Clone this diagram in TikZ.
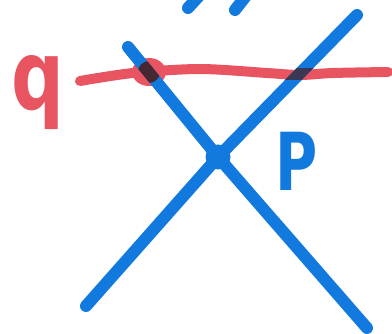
\documentclass[tikz,border=0pt]{standalone}
\usepackage{fontspec}
\newfontfamily\markerfont{DejaVu Sans}
\definecolor{mblue}{RGB}{18,122,222}
\definecolor{mred}{RGB}{232,84,96}
\definecolor{mdark}{RGB}{70,40,50}
\begin{document}
\begin{tikzpicture}[x=1pt,y=-1pt,
  bluestroke/.style={draw=mblue,line width=12pt,line cap=round},
  redstroke/.style={draw=mred,line width=10pt,line cap=round},
  darkstroke/.style={draw=mdark,line width=12pt,line cap=round},
  dotnode/.style={circle,fill=mblue,minimum size=25pt,inner sep=0pt},
  qlabel/.style={text=mred,anchor=base,xscale=0.88,yscale=1.15,font=\markerfont\bfseries\fontsize{84}{84}\selectfont},
  plabel/.style={text=mblue,anchor=base,xscale=0.72,font=\markerfont\bfseries\fontsize{80}{80}\selectfont}]
\useasboundingbox (0,0) rectangle (392,334);
\clip (0,0) rectangle (392,334);
% coordinates
\coordinate (b1s) at (128,47);
\coordinate (b1e) at (367,328);
\coordinate (b2s) at (86,306);
\coordinate (b2e) at (357,15);
\coordinate (blob) at (149,72);
\coordinate (t1a) at (188,8);
\coordinate (t1b) at (199,-4);
\coordinate (t2a) at (235,10);
\coordinate (t2b) at (246,-4);
% red line q
\draw[redstroke] plot[smooth] coordinates {(80,81) (133,73) (200,69) (267,73) (300,75) (333,73) (388,72)};
\fill[mred] (blob) ellipse (17 and 14);
% intersection point
\node[dotnode] (P) at (218,157) {};
% blue lines
\draw[bluestroke] (b1s) -- (P.center) -- (b1e);
\draw[bluestroke] (b2s) -- (P.center) -- (b2e);
% dark overlaps
\begin{scope}
  \clip (blob) circle (11);
  \draw[darkstroke] (b1s) -- (P.center);
\end{scope}
\begin{scope}
  \clip (285,69) rectangle (318,80);
  \draw[darkstroke,draw opacity=0.8] (b2s) -- (P.center) -- (b2e);
\end{scope}
% cut-off strokes at top
\draw[bluestroke] (t1a) -- (t1b);
\draw[bluestroke] (t2a) -- (t2b);
% labels
\node[qlabel] (q) at (38,110) {q};
\node[plabel] (plab) at (297,191) {P};
\end{tikzpicture}
\end{document}
